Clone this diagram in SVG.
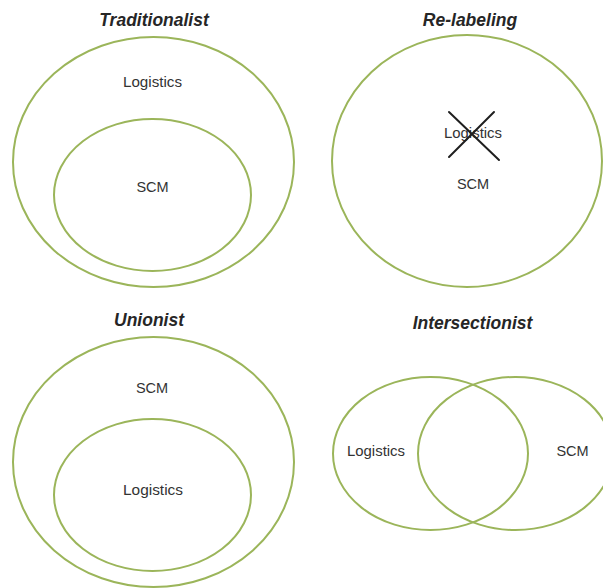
<svg xmlns="http://www.w3.org/2000/svg" width="603" height="588" viewBox="0 0 603 588">
<style>
.ring{fill:none;stroke:#9bb55a;stroke-width:2}
.title{font-family:"Liberation Sans",Arial,sans-serif;font-size:17.5px;font-style:italic;font-weight:bold;fill:#262626;text-anchor:middle}
.lbl{font-family:"Liberation Sans",Arial,sans-serif;font-size:14.5px;fill:#333;text-anchor:middle}
.cross{stroke:#1f1f1f;stroke-width:2;stroke-linecap:round}
</style>
<rect width="603" height="588" fill="#ffffff"/>
<g id="traditionalist">
<text class="title" x="154" y="26">Traditionalist</text>
<ellipse class="ring" cx="153.5" cy="162" rx="140.5" ry="125"/>
<ellipse class="ring" cx="152.5" cy="195" rx="98.5" ry="76"/>
<text class="lbl" x="152.5" y="87" textLength="59" lengthAdjust="spacingAndGlyphs">Logistics</text>
<text class="lbl" x="152.5" y="192">SCM</text>
</g>
<g id="relabeling">
<text class="title" x="470" y="26">Re-labeling</text>
<ellipse class="ring" cx="467" cy="161" rx="135" ry="126"/>
<text class="lbl" x="473" y="138" textLength="58" lengthAdjust="spacingAndGlyphs">Logistics</text>
<text class="lbl" x="473" y="189">SCM</text>
<line class="cross" x1="449" y1="112" x2="499" y2="160"/>
<line class="cross" x1="494" y1="112" x2="449" y2="157"/>
</g>
<g id="unionist">
<text class="title" x="149" y="326">Unionist</text>
<ellipse class="ring" cx="153.5" cy="462" rx="140.5" ry="125"/>
<ellipse class="ring" cx="152.5" cy="495" rx="98.5" ry="76"/>
<text class="lbl" x="152" y="393">SCM</text>
<text class="lbl" x="153" y="495" textLength="60" lengthAdjust="spacingAndGlyphs">Logistics</text>
</g>
<g id="intersectionist">
<text class="title" x="472.5" y="329">Intersectionist</text>
<ellipse class="ring" cx="430.5" cy="453.5" rx="97.5" ry="76.5"/>
<ellipse class="ring" cx="515.5" cy="453.5" rx="97.5" ry="76.5"/>
<text class="lbl" x="376" y="456" textLength="58" lengthAdjust="spacingAndGlyphs">Logistics</text>
<text class="lbl" x="572.5" y="456">SCM</text>
</g>
<g id="connectors"/>
</svg>
